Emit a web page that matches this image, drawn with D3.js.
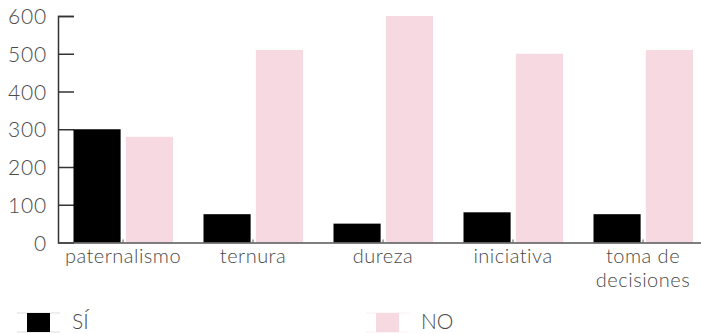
<!DOCTYPE html>
<html>
<head>
<meta charset="utf-8">
<script src="https://cdn.jsdelivr.net/npm/d3@7"></script>
<style>
  body { margin: 0; background: #fff; }
  text { font-family: "Lato", sans-serif; font-weight: 300; fill: #4a4a4a; }
</style>
</head>
<body>
<div id="chart"></div>
<script>
// categories + series values
const categories = ["paternalismo", "ternura", "dureza", "iniciativa", "toma de decisiones"];
const seriesNames = ["SÍ", "NO"];
const valuesSi = [300, 75, 50, 80, 75];
const valuesNo = [280, 510, 600, 500, 510];
const yTicks = [0, 100, 200, 300, 400, 500, 600];
const colors = ["#000000", "#f7d9e1"];

const W = 701, H = 334;
const margin = {left: 58, top: 16, bottom: 92};
const bandStep = 130;

const svg = d3.select("#chart")
  .append("svg")
  .attr("width", W)
  .attr("height", H);

const data = categories.map((c, i) => ({cat: c, "SÍ": valuesSi[i], "NO": valuesNo[i]}));

const x = d3.scaleBand()
  .domain(categories)
  .range([margin.left, margin.left + bandStep * categories.length]);

const xSub = d3.scaleBand()
  .domain(seriesNames)
  .range([15.5, 115])
  .paddingInner(0.1);

const y = d3.scaleLinear()
  .domain([0, 600])
  .range([H - margin.bottom + 0.5, margin.top]);

const color = d3.scaleOrdinal().domain(seriesNames).range(colors);

// Y axis, ticks pointing inward
const yAxis = svg.append("g")
  .attr("transform", `translate(${margin.left},0)`)
  .call(d3.axisRight(y).tickValues(yTicks).tickSize(16).tickFormat(d3.format("d")));
yAxis.select(".domain").attr("stroke", "#333").attr("stroke-width", 1.5);
yAxis.selectAll(".tick line").attr("stroke", "#333").attr("stroke-width", 1.5);
yAxis.selectAll(".tick text")
  .attr("x", -11)
  .attr("dy", "0.36em")
  .attr("text-anchor", "end")
  .attr("fill", "#4a4a4a")
  .style("font-size", "21px")
  .style("letter-spacing", "0.8px");

// Bars
svg.append("g")
  .selectAll("g")
  .data(data)
  .join("g")
  .attr("transform", d => `translate(${x(d.cat)},0)`)
  .selectAll("rect")
  .data(d => seriesNames.map(k => ({key: k, value: d[k]})))
  .join("rect")
  .attr("x", d => xSub(d.key))
  .attr("width", xSub.bandwidth())
  .attr("y", d => y(d.value))
  .attr("height", d => y(0) - y(d.value))
  .attr("fill", d => color(d.key));

// X axis
const xAxis = svg.append("g")
  .attr("transform", `translate(0,${y(0)})`)
  .call(d3.axisTop(x).tickSize(3).tickSizeOuter(0).tickFormat(""));
xAxis.select(".domain").attr("stroke", "#555").attr("stroke-width", 1.5);
xAxis.selectAll(".tick line").attr("stroke", "#555");

// category labels (wrapped)
const wrapLabel = {"toma de decisiones": ["toma de", "decisiones"]};
svg.append("g")
  .selectAll("text")
  .data(categories)
  .join("text")
  .attr("text-anchor", "middle")
  .style("font-size", "20px")
  .style("letter-spacing", "0.5px")
  .attr("y", y(0) + 20)
  .each(function (c) {
    const lines = wrapLabel[c] || [c];
    d3.select(this).selectAll("tspan")
      .data(lines)
      .join("tspan")
      .attr("x", x(c) + x.bandwidth() / 2)
      .attr("dy", (d, i) => i === 0 ? 0 : 24)
      .text(d => d);
  });

// Legend
const legendX = [27, 376];
const legend = svg.append("g")
  .selectAll("g")
  .data(seriesNames)
  .join("g")
  .attr("transform", (d, i) => `translate(${legendX[i]},313)`);

legend.append("line")
  .attr("x1", -10).attr("x2", 33).attr("y1", 0).attr("y2", 0)
  .attr("stroke", (d, i) => i === 0 ? "#ddd" : "#fbeef2");
legend.append("line")
  .attr("x1", -10).attr("x2", 33).attr("y1", 19).attr("y2", 19)
  .attr("stroke", (d, i) => i === 0 ? "#ddd" : "#fbeef2");
legend.append("rect")
  .attr("width", 23)
  .attr("height", 19)
  .attr("fill", d => color(d));
legend.append("text")
  .attr("x", 45)
  .attr("y", 16)
  .style("font-size", "21px")
  .text(d => d);
</script>
</body>
</html>
